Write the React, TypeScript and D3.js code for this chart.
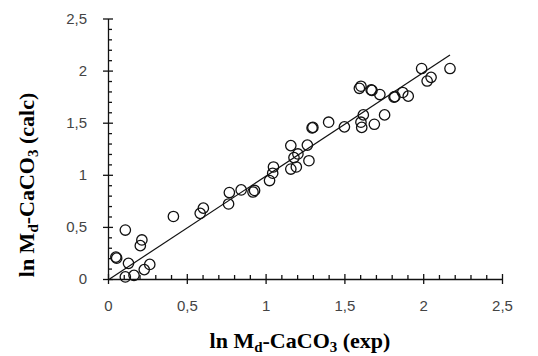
import { useEffect, useRef } from "react";
import * as d3 from "d3";

const expValues = [
  0.05, 0.055, 0.11, 0.13, 0.11, 0.165, 0.215, 0.205, 0.23, 0.265,
  0.415, 0.585, 0.605, 0.765, 0.77, 0.845, 0.92, 0.93, 1.025, 1.045,
  1.05, 1.16, 1.265, 1.205, 1.18, 1.275, 1.16, 1.195, 1.295, 1.3,
  1.4, 1.5, 1.595, 1.605, 1.67, 1.675, 1.725, 1.62, 1.605, 1.61,
  1.69, 1.755, 1.815, 1.82, 1.87, 1.905, 1.99, 2.025, 2.05, 2.17
];
const calcValues = [
  0.21, 0.2, 0.47, 0.15, 0.02, 0.035, 0.375, 0.32, 0.09, 0.14,
  0.6, 0.63, 0.68, 0.72, 0.83, 0.855, 0.835, 0.85, 0.945, 1.015,
  1.075, 1.28, 1.285, 1.2, 1.165, 1.135, 1.055, 1.075, 1.45, 1.455,
  1.505, 1.46, 1.83, 1.85, 1.815, 1.81, 1.77, 1.575, 1.505, 1.455,
  1.485, 1.575, 1.745, 1.75, 1.79, 1.755, 2.02, 1.9, 1.935, 2.02
];

// regression line
const fitX = [0.01, 2.17];
const fitY = [0.0, 2.15];

const majorTicks = [0, 0.5, 1, 1.5, 2, 2.5];
const tickLabels = ["0", "0,5", "1", "1,5", "2", "2,5"];
const minorTicks = d3.range(0, 26).map((i) => i / 10).filter((v) => Math.round(v * 10) % 5 !== 0);

const W = 538;
const H = 356;

export default function App() {
  const ref = useRef<SVGSVGElement | null>(null);

  useEffect(() => {
    if (!ref.current) return;
    const svg = d3.select(ref.current);
    svg.selectAll("*").remove();

    const x = d3.scaleLinear().domain([0, 2.5]).range([108, 502]);
    const y = d3.scaleLinear().domain([0, 2.5]).range([279, 18.5]);
    const ink = "#111";
    const labelFont = "'Liberation Sans', Arial, sans-serif";

    // x axis
    const gx = svg.append("g").attr("transform", `translate(0,${y(0)})`);
    gx.call(
      d3.axisTop(x).tickValues(minorTicks).tickSize(4).tickFormat(() => "")
    ).call((g) => g.select(".domain").remove());
    const gxMajor = svg.append("g").attr("transform", `translate(0,${y(0)})`);
    gxMajor.call(
      d3.axisBottom(x)
        .tickValues(majorTicks)
        .tickSize(5)
        .tickSizeOuter(0)
        .tickPadding(16)
        .tickFormat((_, i) => tickLabels[i])
    );
    gxMajor.selectAll(".tick").append("line").attr("y2", -5);

    // y axis
    const gy = svg.append("g").attr("transform", `translate(${x(0)},0)`);
    gy.call(
      d3.axisRight(y).tickValues(minorTicks).tickSize(4).tickFormat(() => "")
    ).call((g) => g.select(".domain").remove());
    const gyMajor = svg.append("g").attr("transform", `translate(${x(0)},0)`);
    gyMajor.call(
      d3.axisLeft(y)
        .tickValues(majorTicks)
        .tickSize(5)
        .tickSizeOuter(0)
        .tickPadding(16)
        .tickFormat((_, i) => tickLabels[i])
    );
    gyMajor.selectAll(".tick").append("line").attr("x2", 5);

    svg.selectAll(".domain, .tick line")
      .attr("stroke", ink)
      .attr("stroke-width", 1.3);
    svg.selectAll(".tick text")
      .attr("fill", "#444")
      .style("font-family", labelFont)
      .style("font-size", "15px");

    // regression line
    const line = d3.line<number>()
      .x((d) => x(d))
      .y((_, i) => y(fitY[i]));
    svg.append("path")
      .attr("d", line(fitX))
      .attr("fill", "none")
      .attr("stroke", ink)
      .attr("stroke-width", 1.2);

    // points
    svg.append("g")
      .selectAll("circle")
      .data(expValues)
      .enter()
      .append("circle")
      .attr("cx", (d) => x(d))
      .attr("cy", (_, i) => y(calcValues[i]))
      .attr("r", 5.2)
      .attr("fill", "none")
      .attr("stroke", ink)
      .attr("stroke-width", 1.3);

    // axis titles
    const addTitle = (g: d3.Selection<SVGTextElement, unknown, null, undefined>, tail: string) => {
      g.attr("text-anchor", "middle")
        .attr("fill", "#000")
        .style("font-family", "'Liberation Serif', 'Times New Roman', serif")
        .style("font-weight", "bold")
        .style("font-size", "22px");
      g.append("tspan").text("ln M");
      g.append("tspan").attr("dy", 4).style("font-size", "15px").text("d");
      g.append("tspan").attr("dy", -4).text("-CaCO");
      g.append("tspan").attr("dy", 4).style("font-size", "15px").text("3");
      g.append("tspan").attr("dy", -4).text(tail);
    };

    addTitle(
      svg.append("text").attr("x", 300).attr("y", 348) as any,
      " (exp)"
    );
    addTitle(
      svg.append("text").attr("transform", "translate(34,185) rotate(-90)") as any,
      " (calc)"
    );
  }, []);

  return (
    <svg
      ref={ref}
      width={W}
      height={H}
      style={{ position: "absolute", left: 0, top: 0, background: "#fff" }}
    />
  );
}
